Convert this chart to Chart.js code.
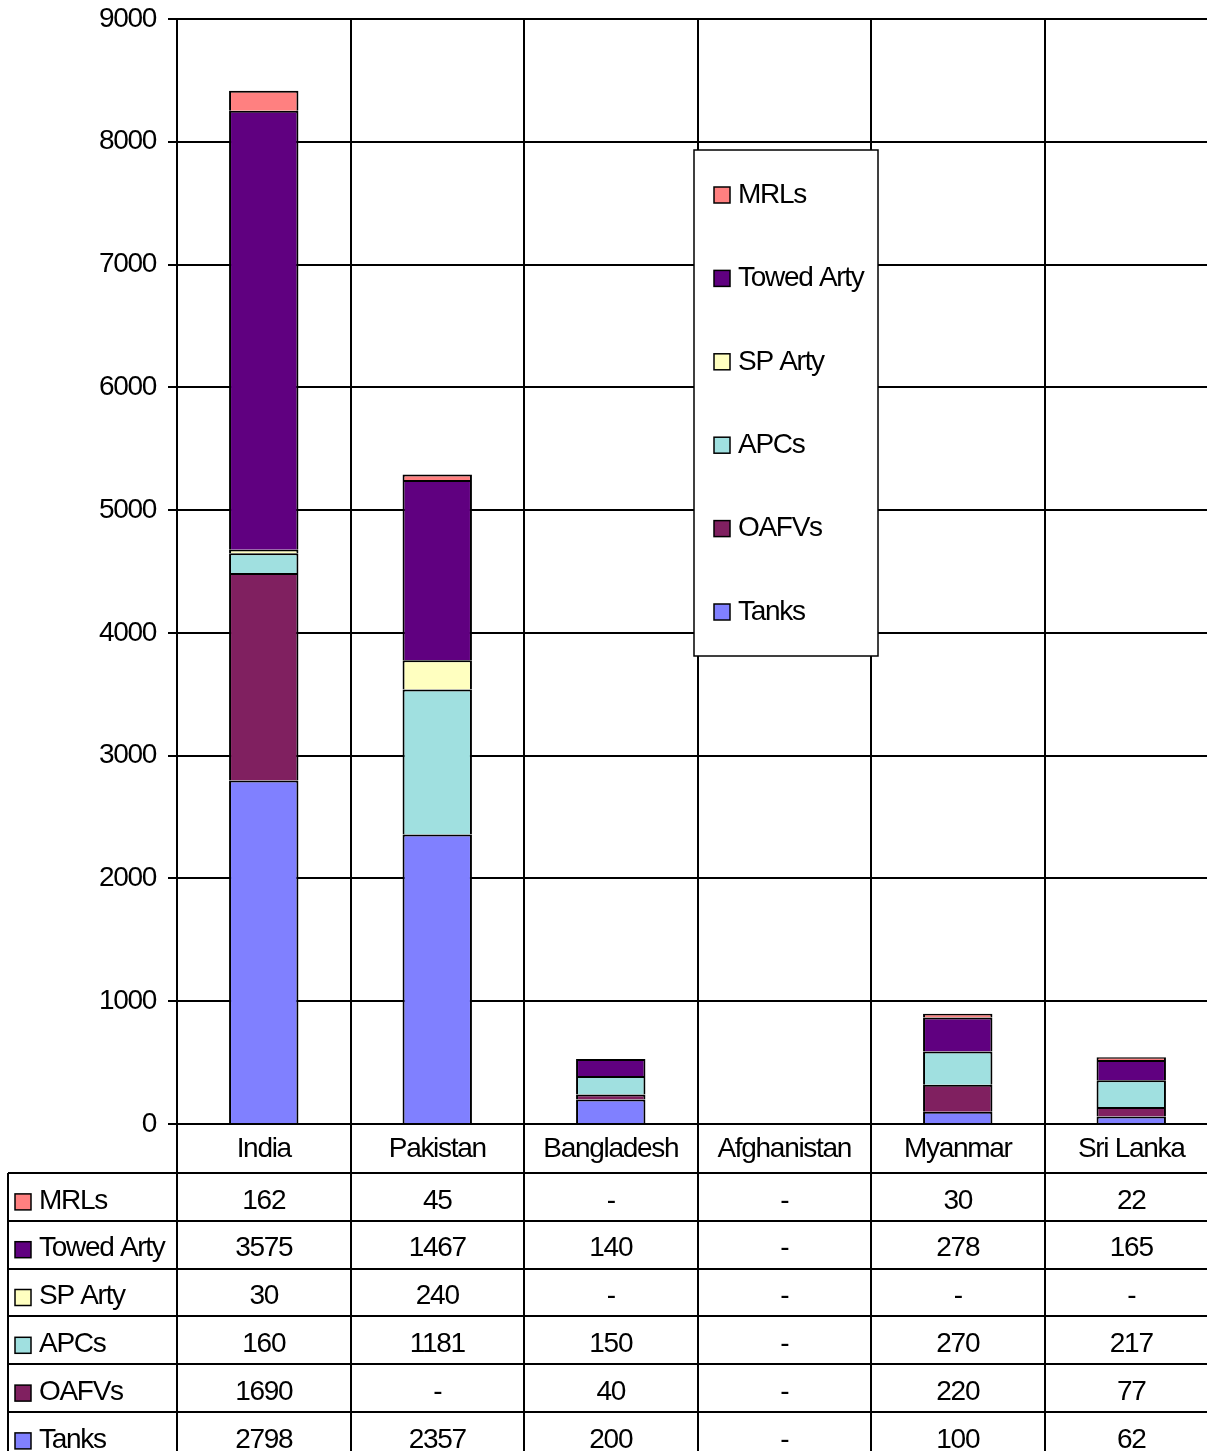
<!DOCTYPE html>
<html>
<head>
<meta charset="utf-8">
<script src="https://cdn.jsdelivr.net/npm/chart.js@4/dist/chart.umd.min.js"></script>
<style>
  html, body { margin: 0; padding: 0; background: #fff; overflow: hidden; }
  canvas { display: block; }
</style>
</head>
<body>
<canvas id="c" width="1219" height="1451" style="width:1219px;height:1451px"></canvas>
<script>
// Ground force holdings by country
const countries = ['India', 'Pakistan', 'Bangladesh', 'Afghanistan', 'Myanmar', 'Sri Lanka'];
const tanks      = [2798, 2357, 200, null, 100, 62];
const oafvs      = [1690, null, 40, null, 220, 77];
const apcs       = [160, 1181, 150, null, 270, 217];
const spArty     = [30, 240, null, null, null, null];
const towedArty  = [3575, 1467, 140, null, 278, 165];
const mrls       = [162, 45, null, null, 30, 22];

const seriesNames  = ['Tanks', 'OAFVs', 'APCs', 'SP Arty', 'Towed Arty', 'MRLs'];
const seriesValues = [tanks, oafvs, apcs, spArty, towedArty, mrls];
const seriesColors = ['#8080FF', '#802060', '#A0E0E0', '#FFFFC0', '#600080', '#FF8080'];

const yMin = 0, yMax = 9000, yStep = 1000;

const FONT_FAMILY = '"Liberation Sans", Arial, sans-serif';
const FONT_SIZE = 28;
const FONT = FONT_SIZE + 'px ' + FONT_FAMILY;
const SPACING = '-1.3px';

function line(ctx, x1, y1, x2, y2) {
  ctx.beginPath();
  ctx.moveTo(x1, y1);
  ctx.lineTo(x2, y2);
  ctx.stroke();
}

function swatch(ctx, x, y, color) {
  ctx.fillStyle = color;
  ctx.fillRect(x, y, 16, 16);
  ctx.strokeStyle = '#000';
  ctx.lineWidth = 1.5;
  ctx.strokeRect(x, y, 16, 16);
}

// Condensed text look
const textSpacing = {
  id: 'textSpacing',
  beforeUpdate(chart) { chart.ctx.letterSpacing = SPACING; },
  beforeDraw(chart) { chart.ctx.letterSpacing = SPACING; }
};

// Data table under the plot and the boxed legend inside it
const tableAndLegend = {
  id: 'tableAndLegend',
  afterDraw(chart) {
    const ctx = chart.ctx;
    const xs = chart.scales.x;
    const area = chart.chartArea;
    const n = countries.length;
    const colW = (xs.right - xs.left) / n;
    const headerBottom = area.bottom + 49;
    const rowH = 47.8;
    const tableLeft = 8;
    const bottom = chart.height;
    const rows = chart.data.datasets.map((d, i) => i).reverse();

    ctx.save();
    ctx.letterSpacing = SPACING;
    ctx.strokeStyle = '#000';
    ctx.lineWidth = 2;

    for (let r = 0; r <= rows.length; r++) {
      const y = Math.round(headerBottom + r * rowH);
      line(ctx, tableLeft, y, xs.right, y);
    }
    for (let i = 0; i <= n; i++) {
      const x = Math.round(xs.left + i * colW);
      line(ctx, x, area.bottom, x, bottom);
    }
    line(ctx, tableLeft, headerBottom, tableLeft, bottom);

    ctx.font = FONT;
    ctx.textBaseline = 'middle';
    rows.forEach((di, r) => {
      const ds = chart.data.datasets[di];
      const cy = headerBottom + r * rowH + rowH / 2 + 4;
      swatch(ctx, 15, cy - 7, ds.backgroundColor);
      ctx.fillStyle = '#000';
      ctx.textAlign = 'left';
      ctx.fillText(ds.label, 39, cy);
      ctx.textAlign = 'center';
      ds.data.forEach((v, i) => {
        const cx = xs.getPixelForValue(i);
        ctx.fillText(v === null ? '-' : String(v), cx, cy);
      });
    });

    // legend box
    const lx = 694, ly = 150, lw = 184, lh = 506;
    ctx.fillStyle = '#fff';
    ctx.fillRect(lx, ly, lw, lh);
    ctx.strokeStyle = '#000';
    ctx.lineWidth = 1.5;
    ctx.strokeRect(lx, ly, lw, lh);
    rows.forEach((di, r) => {
      const ds = chart.data.datasets[di];
      const cy = 195 + r * 83.4;
      swatch(ctx, 714, cy - 8, ds.backgroundColor);
      ctx.fillStyle = '#000';
      ctx.textAlign = 'left';
      ctx.fillText(ds.label, 738, cy);
    });
    ctx.restore();
  }
};

new Chart(document.getElementById('c'), {
  type: 'bar',
  data: {
    labels: countries,
    datasets: seriesNames.map((name, i) => ({
      label: name,
      data: seriesValues[i],
      backgroundColor: seriesColors[i],
      borderColor: '#000',
      borderWidth: { left: 2, right: 2, top: 2, bottom: 0 },
      borderSkipped: false,
      barPercentage: 0.4,
      categoryPercentage: 1
    }))
  },
  options: {
    responsive: false,
    animation: false,
    devicePixelRatio: 1,
    layout: { padding: { top: 19, right: 1, left: 0, bottom: 0 } },
    plugins: {
      legend: { display: false },
      tooltip: { enabled: false }
    },
    scales: {
      x: {
        stacked: true,
        offset: true,
        grid: { color: '#000', lineWidth: 2, drawTicks: false, offset: true },
        border: { color: '#000', width: 2 },
        ticks: {
          color: '#000',
          font: { family: FONT_FAMILY, size: FONT_SIZE },
          padding: 8,
          maxRotation: 0,
          autoSkip: false
        },
        afterFit(scale) { scale.height = 327; }
      },
      y: {
        stacked: true,
        min: yMin,
        max: yMax,
        grid: { color: '#000', lineWidth: 2, drawTicks: true, tickLength: 9 },
        border: { color: '#000', width: 2 },
        ticks: {
          stepSize: yStep,
          color: '#000',
          font: { family: FONT_FAMILY, size: FONT_SIZE },
          padding: 12,
          callback: v => String(v)
        },
        afterFit(scale) {
          scale.width = 177;
          scale.paddingTop = 0;
          scale.paddingBottom = 0;
        }
      }
    }
  },
  plugins: [textSpacing, tableAndLegend]
});
</script>
</body>
</html>
